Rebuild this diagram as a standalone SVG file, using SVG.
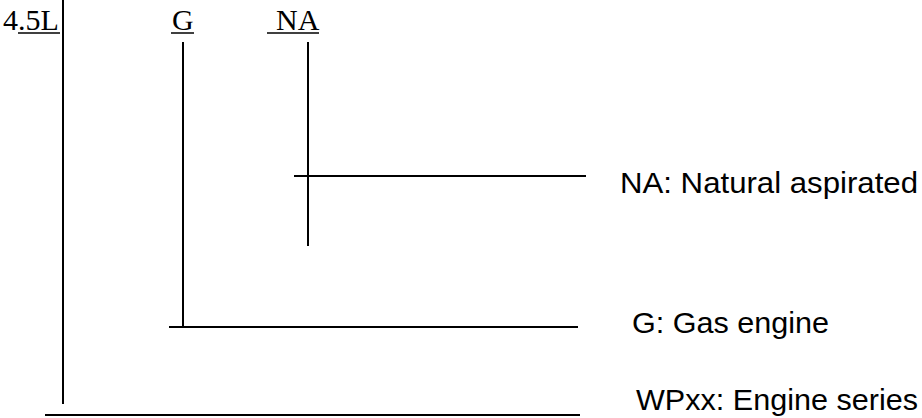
<svg xmlns="http://www.w3.org/2000/svg" width="922" height="418" viewBox="0 0 922 418">
  <style>
    .code { font-family: "Liberation Serif", "Times New Roman", serif; font-size: 30px; fill: #000; }
    .label { font-family: "Liberation Sans", Arial, sans-serif; font-size: 29px; fill: #000; }
    .ln { stroke: #000; stroke-width: 2; fill: none; }
    .ul { stroke: #000; stroke-width: 1.5; fill: none; }
  </style>
  <rect width="922" height="418" fill="#fff"/>
  <g id="code-45L">
    <text class="code" x="3" y="30">4.5L</text>
    <line class="ul" x1="18" y1="33" x2="60" y2="33"/>
  </g>
  <g id="code-G">
    <text class="code" x="172" y="30">G</text>
    <line class="ul" x1="171" y1="33" x2="194" y2="33"/>
  </g>
  <g id="code-NA">
    <text class="code" x="276" y="30">NA</text>
    <line class="ul" x1="267" y1="33" x2="319" y2="33"/>
  </g>
  <g id="label-NA">
    <text class="label" x="620" y="193" textLength="298" lengthAdjust="spacingAndGlyphs">NA: Natural aspirated</text>
  </g>
  <g id="label-G">
    <text class="label" x="632" y="333" textLength="197" lengthAdjust="spacingAndGlyphs">G: Gas engine</text>
  </g>
  <g id="label-WPxx">
    <text class="label" x="636" y="410" textLength="282" lengthAdjust="spacingAndGlyphs">WPxx: Engine series</text>
  </g>
  <g id="connectors">
    <line class="ln" x1="63" y1="0" x2="63" y2="404"/>
    <line class="ln" x1="45" y1="415" x2="580" y2="415"/>
    <line class="ln" x1="183" y1="42" x2="183" y2="327"/>
    <line class="ln" x1="169" y1="327" x2="578" y2="327"/>
    <line class="ln" x1="308" y1="42" x2="308" y2="246"/>
    <line class="ln" x1="294" y1="176" x2="586" y2="176"/>
  </g>
</svg>
